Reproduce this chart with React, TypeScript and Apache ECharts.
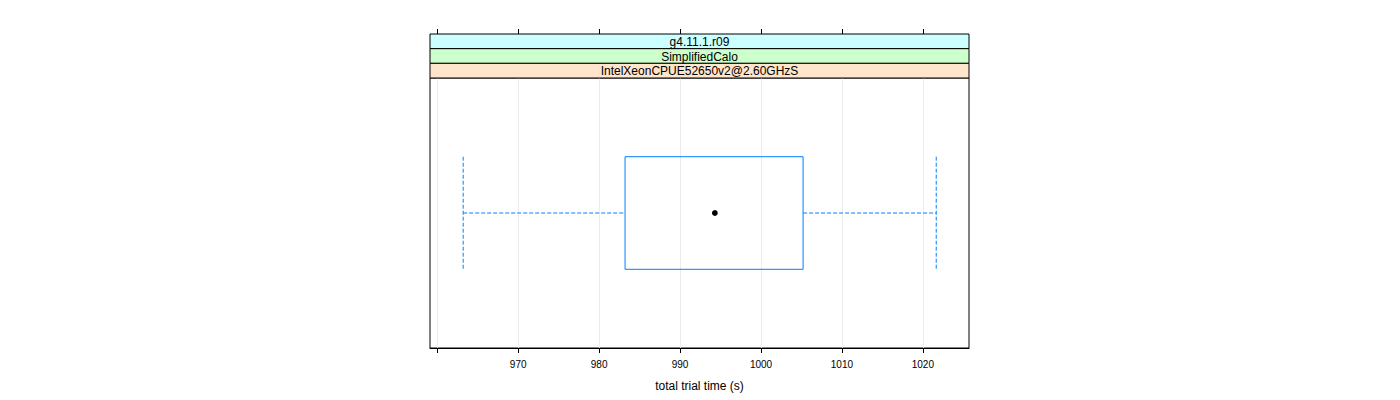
import React, { useEffect, useRef } from "react";
import * as echarts from "echarts";

// ---- data ----
const STRIP_LABELS = ["g4.11.1.r09", "SimplifiedCalo", "IntelXeonCPUE52650v2@2.60GHzS"];
const STRIP_COLORS = ["#ccffff", "#ccffcc", "#ffe5cc"];
const CATEGORIES = ["IntelXeonCPUE52650v2@2.60GHzS"];
const WHISKER_LOW = [963.2];
const Q1 = [983.2];
const MEDIAN = [994.3];
const Q3 = [1005.2];
const WHISKER_HIGH = [1021.65];
const TICK_VALUES = [960, 970, 980, 990, 1000, 1010, 1020];
const LABEL_VALUES = [970, 980, 990, 1000, 1010, 1020];
const X_MIN = 959.1;
const X_MAX = 1025.7;
const X_TITLE = "total trial time (s)";

// ---- layout ----
const GRID_LEFT = 430;
const GRID_TOP = 78;
const GRID_W = 539;
const GRID_H = 270;
const STRIP_TOP = 34;
const STRIP_H = (GRID_TOP - STRIP_TOP) / 3;
const FONT = "'Liberation Sans', Arial, Helvetica, sans-serif";
const BOX_COLOR = "#0080ff";

export default function App() {
  const ref = useRef<HTMLDivElement>(null);

  useEffect(() => {
    if (!ref.current) return;
    const chart = echarts.init(ref.current, null, { renderer: "svg" });

    const stripGraphics: any[] = [];
    STRIP_LABELS.forEach((label, i) => {
      const y = STRIP_TOP + i * STRIP_H;
      stripGraphics.push({
        type: "rect",
        shape: { x: GRID_LEFT, y, width: GRID_W, height: STRIP_H },
        style: { fill: STRIP_COLORS[i], stroke: "#000", lineWidth: 1 },
        z: 10,
      });
      stripGraphics.push({
        type: "text",
        x: GRID_LEFT + GRID_W / 2,
        y: y + STRIP_H / 2 + 0.5,
        style: {
          text: label,
          fill: "#000",
          font: `12px ${FONT}`,
          align: "center",
          verticalAlign: "middle",
        },
        z: 11,
      });
    });

    const option: any = {
      animation: false,
      backgroundColor: "#ffffff",
      grid: {
        left: GRID_LEFT,
        top: GRID_TOP,
        width: GRID_W,
        height: GRID_H,
        show: true,
        borderColor: "#000",
        borderWidth: 1,
        backgroundColor: "transparent",
      },
      xAxis: [
        {
          type: "value",
          position: "bottom",
          min: X_MIN,
          max: X_MAX,
          name: X_TITLE,
          nameLocation: "middle",
          nameGap: 32,
          nameTextStyle: { fontSize: 12, color: "#000", fontFamily: FONT },
          axisLine: { show: true, lineStyle: { color: "#000", width: 1 } },
          axisTick: {
            show: true,
            length: 5,
            inside: false,
            customValues: TICK_VALUES,
            lineStyle: { color: "#000" },
          },
          axisLabel: {
            show: true,
            customValues: LABEL_VALUES,
            formatter: (v: number) => String(v),
            fontSize: 10,
            color: "#000",
            fontFamily: FONT,
            margin: 11,
          },
          splitLine: { show: true, lineStyle: { color: "#ebebeb", width: 1 } },
        },
        {
          type: "value",
          position: "top",
          offset: GRID_TOP - STRIP_TOP,
          min: X_MIN,
          max: X_MAX,
          axisLine: { show: false },
          axisTick: {
            show: true,
            length: 5,
            inside: false,
            customValues: TICK_VALUES,
            lineStyle: { color: "#000" },
          },
          axisLabel: { show: false },
          splitLine: { show: false },
        },
      ],
      yAxis: {
        type: "category",
        data: CATEGORIES,
        show: false,
      },
      graphic: stripGraphics,
      series: [
        {
          type: "custom",
          xAxisIndex: 0,
          yAxisIndex: 0,
          encode: { x: [1, 2, 3, 4, 5], y: 0 },
          data: CATEGORIES.map((_, i) => [i, WHISKER_LOW[i], Q1[i], MEDIAN[i], Q3[i], WHISKER_HIGH[i]]),
          renderItem: (params: any, api: any) => {
            const yi = api.value(0);
            const pLow = api.coord([api.value(1), yi]);
            const pQ1 = api.coord([api.value(2), yi]);
            const pMed = api.coord([api.value(3), yi]);
            const pQ3 = api.coord([api.value(4), yi]);
            const pHigh = api.coord([api.value(5), yi]);
            const band = api.size([0, 1])[1];
            const h = band * 0.417;
            const cy = pLow[1];
            const top = cy - h / 2;
            const bottom = cy + h / 2;
            const dashed = { stroke: BOX_COLOR, lineWidth: 1, lineDash: [4, 2], fill: null };
            return {
              type: "group",
              children: [
                { type: "line", shape: { x1: pLow[0], y1: cy, x2: pQ1[0], y2: cy }, style: dashed },
                { type: "line", shape: { x1: pQ3[0], y1: cy, x2: pHigh[0], y2: cy }, style: dashed },
                { type: "line", shape: { x1: pLow[0], y1: top, x2: pLow[0], y2: bottom }, style: dashed },
                { type: "line", shape: { x1: pHigh[0], y1: top, x2: pHigh[0], y2: bottom }, style: dashed },
                {
                  type: "rect",
                  shape: { x: pQ1[0], y: top, width: pQ3[0] - pQ1[0], height: h },
                  style: { fill: "transparent", stroke: BOX_COLOR, lineWidth: 1 },
                },
                {
                  type: "circle",
                  shape: { cx: pMed[0], cy, r: 2.9 },
                  style: { fill: "#000", stroke: null },
                },
              ],
            };
          },
        },
      ],
    };

    chart.setOption(option);
    return () => chart.dispose();
  }, []);

  return (
    <div
      ref={ref}
      style={{ position: "fixed", left: 0, top: 0, width: 1400, height: 400, background: "#fff" }}
    />
  );
}
